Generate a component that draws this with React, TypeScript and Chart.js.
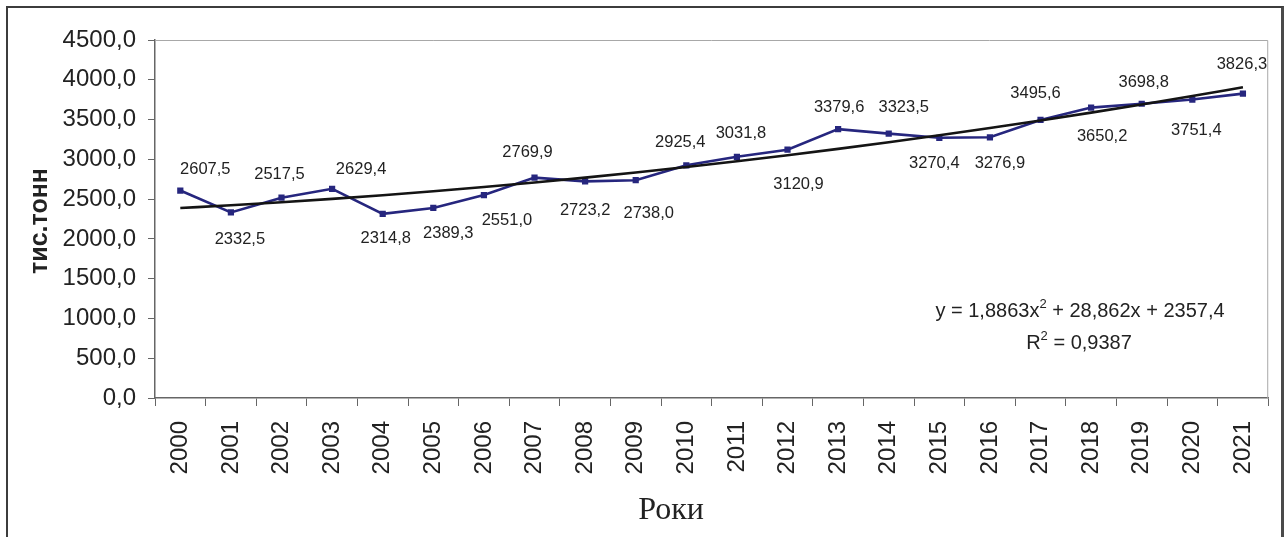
import React, { useEffect, useRef } from "react";
import { Chart, registerables } from "chart.js";

Chart.register(...registerables);

const years = [
  "2000", "2001", "2002", "2003", "2004", "2005", "2006", "2007", "2008", "2009", "2010",
  "2011", "2012", "2013", "2014", "2015", "2016", "2017", "2018", "2019", "2020", "2021",
];
const production = [
  2607.5, 2332.5, 2517.5, 2629.4, 2314.8, 2389.3, 2551.0, 2769.9, 2723.2, 2738.0, 2925.4,
  3031.8, 3120.9, 3379.6, 3323.5, 3270.4, 3276.9, 3495.6, 3650.2, 3698.8, 3751.4, 3826.3,
];
// Polynomial trend line values (y = 1,8863x^2 + 28,862x + 2357,4 evaluated at x = 1..22)
const trend = [
  2388.1, 2422.7, 2461.0, 2503.0, 2548.9, 2598.5, 2651.9, 2709.0, 2769.9, 2834.7, 2903.1,
  2975.4, 3051.4, 3131.2, 3214.7, 3302.1, 3393.2, 3488.1, 3586.7, 3689.2, 3795.4, 3905.3,
];
const yMin = 0;
const yMax = 4500;
const yStep = 500;
const yTitle = "тис.тонн";
const xTitle = "Роки";
const eqLine1a = "y = 1,8863x";
const eqSup = "2";
const eqLine1b = " + 28,862x + 2357,4";
const eqLine2a = "R";
const eqLine2b = " = 0,9387";

// label placement offsets (px) from each point
const labelDx = [25, 9, -2, 29, 3, 15, 23, -7, 0, 13, -6, 4, 11, 1, 15, -5, 10, -5, 11, 2, 4, -1];
const labelDy = [-21, 27, -23, -19, 25, 26, 25, -25, 29, 33, -23, -23, 35, -22, -26, 26, 26, -26, 29, -21, 31, -29];

const SANS = "'Liberation Sans', Arial, sans-serif";
const SERIF = "'Liberation Serif', 'Times New Roman', serif";
const fmt = (v: number) => v.toFixed(1).replace(".", ",");

const overlayPlugin = {
  id: "overlay",
  afterDatasetsDraw(chart: any) {
    const ctx = chart.ctx;
    const area = chart.chartArea;
    ctx.save();
    // plot area top/right border
    ctx.strokeStyle = "#a8a8a8";
    ctx.lineWidth = 1;
    ctx.beginPath();
    ctx.moveTo(area.left, area.top + 0.5);
    ctx.lineTo(area.right - 0.5, area.top + 0.5);
    ctx.lineTo(area.right - 0.5, area.bottom);
    ctx.stroke();

    // data labels
    const meta = chart.getDatasetMeta(1);
    ctx.fillStyle = "#222";
    ctx.font = `16.5px ${SANS}`;
    ctx.textAlign = "center";
    ctx.textBaseline = "middle";
    meta.data.forEach((pt: any, i: number) => {
      ctx.fillText(fmt(production[i]), pt.x + labelDx[i], pt.y + labelDy[i]);
    });
    ctx.restore();
  },
  afterDraw(chart: any) {
    const ctx = chart.ctx;
    ctx.save();
    ctx.fillStyle = "#222";
    // y title
    ctx.translate(40, 221);
    ctx.rotate(-Math.PI / 2);
    ctx.font = `bold 25px ${SANS}`;
    ctx.textAlign = "center";
    ctx.textBaseline = "middle";
    ctx.fillText(yTitle, 0, 0);
    ctx.restore();

    ctx.save();
    ctx.fillStyle = "#222";
    ctx.font = `32px ${SERIF}`;
    ctx.textAlign = "center";
    ctx.textBaseline = "alphabetic";
    ctx.fillText(xTitle, 671, 519);

    // equation
    const big = `20px ${SANS}`;
    const small = `13px ${SANS}`;
    ctx.textAlign = "left";
    ctx.textBaseline = "alphabetic";
    ctx.font = big;
    const w1a = ctx.measureText(eqLine1a).width;
    const w1b = ctx.measureText(eqLine1b).width;
    ctx.font = small;
    const ws = ctx.measureText(eqSup).width;
    let total = w1a + ws + w1b;
    let x = 1080 - total / 2;
    const base1 = 317;
    ctx.font = big;
    ctx.fillText(eqLine1a, x, base1);
    ctx.font = small;
    ctx.fillText(eqSup, x + w1a, base1 - 9);
    ctx.font = big;
    ctx.fillText(eqLine1b, x + w1a + ws, base1);

    ctx.font = big;
    const w2a = ctx.measureText(eqLine2a).width;
    const w2b = ctx.measureText(eqLine2b).width;
    total = w2a + ws + w2b;
    x = 1079 - total / 2;
    const base2 = 349;
    ctx.fillText(eqLine2a, x, base2);
    ctx.font = small;
    ctx.fillText(eqSup, x + w2a, base2 - 9);
    ctx.font = big;
    ctx.fillText(eqLine2b, x + w2a + ws, base2);
    ctx.restore();
  },
};

export default function App() {
  const ref = useRef<HTMLCanvasElement | null>(null);
  useEffect(() => {
    if (!ref.current) return;
    const chart = new Chart(ref.current, {
      type: "line",
      data: {
        labels: years,
        datasets: [
          {
            label: "trend",
            data: trend,
            borderColor: "#141414",
            borderWidth: 2.6,
            pointRadius: 0,
            cubicInterpolationMode: "monotone",
            fill: false,
          },
          {
            label: "production",
            data: production,
            borderColor: "#26267e",
            backgroundColor: "#26267e",
            borderWidth: 2.6,
            pointStyle: "rect",
            pointRadius: 4.4,
            pointBorderWidth: 0,
            tension: 0,
            fill: false,
          },
        ],
      },
      options: {
        responsive: false,
        animation: false,
        events: [],
        layout: { padding: { left: 0, top: 40, right: 12, bottom: 0 } },
        plugins: { legend: { display: false }, tooltip: { enabled: false }, title: { display: false } },
        scales: {
          x: {
            offset: true,
            grid: {
              offset: true,
              drawOnChartArea: false,
              drawTicks: true,
              tickLength: 8,
              color: "#666",
              lineWidth: 1,
            },
            border: { color: "#666", width: 1.5 },
            ticks: {
              autoSkip: false,
              minRotation: 90,
              maxRotation: 90,
              padding: 15,
              color: "#222",
              font: { family: SANS, size: 24 },
            },
            afterFit(scale: any) {
              scale.height = 139;
            },
          },
          y: {
            min: yMin,
            max: yMax,
            ticks: {
              stepSize: yStep,
              padding: 12,
              color: "#222",
              font: { family: SANS, size: 24 },
              callback: (v: any) => fmt(Number(v)),
            },
            grid: {
              drawOnChartArea: false,
              drawTicks: true,
              tickLength: 7,
              color: "#666",
              lineWidth: 1,
            },
            border: { color: "#666", width: 1.5 },
            afterFit(scale: any) {
              scale.width = 155;
            },
          },
        },
      },
      plugins: [overlayPlugin],
    } as any);
    return () => chart.destroy();
  }, []);

  return (
    <div style={{ position: "absolute", left: 0, top: 0, width: 1287, height: 537, overflow: "hidden", background: "#fff" }}>
      <div
        style={{
          position: "absolute",
          left: 6,
          top: 6,
          width: 1278,
          height: 600,
          boxSizing: "border-box",
          borderTop: "2px solid #3c3c3c",
          borderLeft: "2px solid #3c3c3c",
          borderRight: "3px solid #4a4a4a",
        }}
      />
      <canvas ref={ref} width={1287} height={537} style={{ position: "absolute", left: 0, top: 0, width: 1287, height: 537 }} />
    </div>
  );
}
